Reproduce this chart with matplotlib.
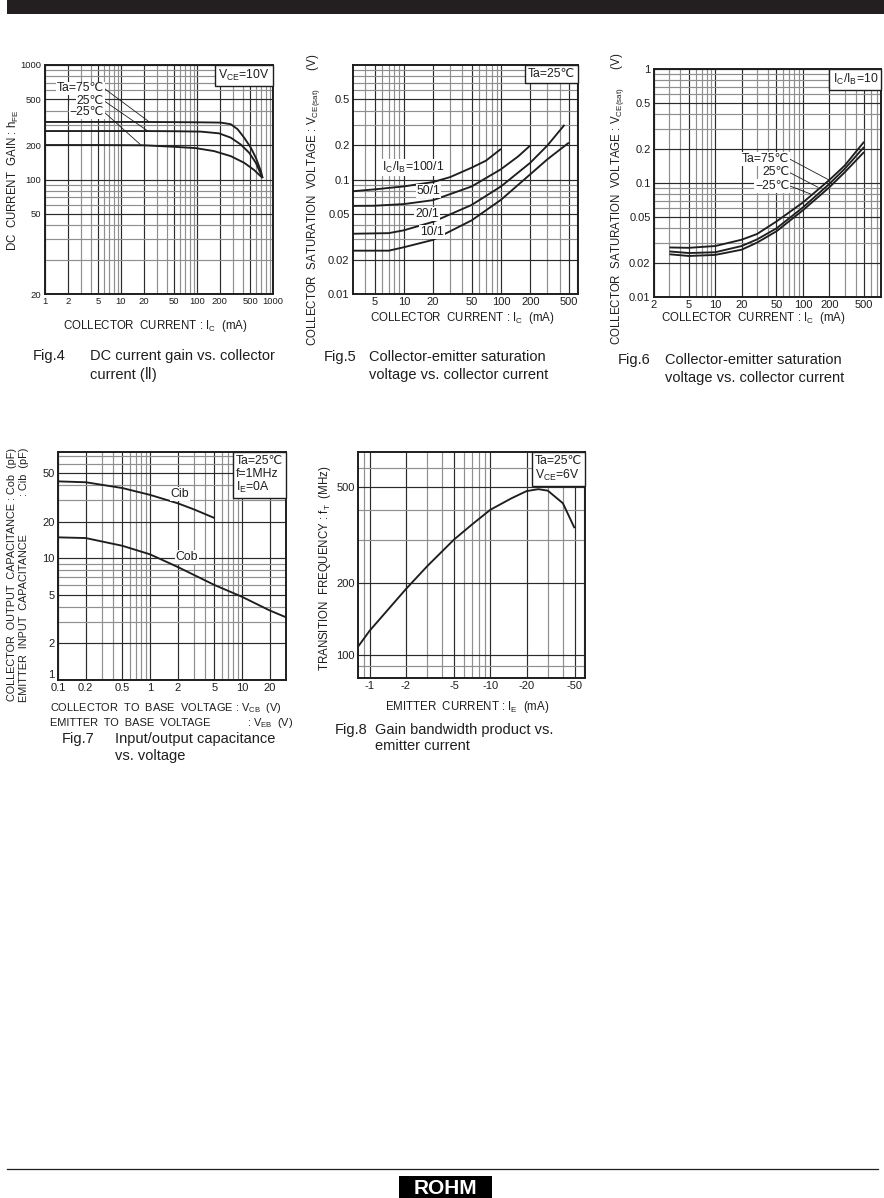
import matplotlib.pyplot as plt
import numpy as np
from matplotlib.lines import Line2D
from matplotlib.offsetbox import AnchoredText
from matplotlib.patches import Rectangle
from matplotlib.ticker import NullFormatter

W, H = 884, 1198
INK = "#1e1e1e"
GRID_DARK = "#2b2b2b"
GRID_LIGHT = "#8f8f8f"

# Fig.4  DC current gain vs collector current
FIG4_IC_75 = [1, 2, 5, 10, 20, 50, 100, 205, 278, 342, 417, 510, 594, 694, 730]
FIG4_HFE_75 = [318, 318, 318, 318, 318, 317, 316, 314, 304, 275, 232, 190, 155, 118, 103]
FIG4_IC_25 = [1, 2, 5, 10, 20, 50, 112, 195, 278, 377, 486, 594, 730]
FIG4_HFE_25 = [265, 265, 265, 265, 265, 264, 262, 253, 232, 202, 171, 140, 103]
FIG4_IC_M25 = [1, 5, 20, 50, 96, 168, 278, 417, 565, 730]
FIG4_HFE_M25 = [200, 200, 199, 193, 188, 177, 160, 140, 121, 103]
FIG4_XTICKS = [1, 2, 5, 10, 20, 50, 100, 200, 500, 1000]
FIG4_YTICKS = [10, 50, 100, 200, 500, 1000]
FIG4_YLABELS = ["20", "50", "100", "200", "500", "1000"]

# Fig.5  VCE(sat) vs Ic for several Ic/Ib ratios
FIG5_IC_100 = [3, 5, 10, 20, 30, 50, 70, 100]
FIG5_V_100 = [0.079, 0.082, 0.087, 0.095, 0.105, 0.127, 0.146, 0.185]
FIG5_IC_50 = [3, 5, 10, 20, 50, 100, 150, 200]
FIG5_V_50 = [0.0588, 0.059, 0.061, 0.066, 0.087, 0.123, 0.159, 0.198]
FIG5_IC_20 = [3, 7, 10, 20, 50, 100, 200, 300, 450]
FIG5_V_20 = [0.0336, 0.034, 0.036, 0.0427, 0.060, 0.087, 0.14, 0.198, 0.30]
FIG5_IC_10 = [3, 7, 10, 20, 50, 100, 200, 300, 500]
FIG5_V_10 = [0.0239, 0.0239, 0.0256, 0.0297, 0.044, 0.0665, 0.111, 0.15, 0.21]
FIG5_XTICKS = [5, 10, 20, 50, 100, 200, 500]
FIG5_YTICKS = [0.01, 0.02, 0.05, 0.1, 0.2, 0.5]

# Fig.6  VCE(sat) vs Ic at three temperatures
FIG6_IC = [3, 5, 10, 20, 30, 50, 100, 200, 300, 500]
FIG6_V_75 = [0.0272, 0.027, 0.028, 0.0318, 0.0357, 0.046, 0.0674, 0.106, 0.142, 0.23]
FIG6_V_25 = [0.0251, 0.0243, 0.0247, 0.028, 0.032, 0.040, 0.061, 0.098, 0.133, 0.207]
FIG6_V_M25 = [0.0237, 0.0229, 0.0234, 0.026, 0.030, 0.0377, 0.0576, 0.0915, 0.124, 0.187]
FIG6_XTICKS = [2, 5, 10, 20, 50, 100, 200, 500]
FIG6_YTICKS = [0.01, 0.02, 0.05, 0.1, 0.2, 0.5, 1]

# Fig.7  capacitance vs voltage
FIG7_V_CIB = [0.1, 0.2, 0.5, 1, 2, 3, 5]
FIG7_CIB = [43, 42.3, 37.9, 33.3, 28.4, 25.3, 21.5]
FIG7_V_COB = [0.1, 0.2, 0.5, 1, 2, 5, 10, 20, 30]
FIG7_COB = [14.9, 14.7, 12.7, 10.8, 8.5, 6.05, 4.83, 3.73, 3.28]
FIG7_XTICKS = [0.1, 0.2, 0.5, 1, 2, 5, 10, 20]
FIG7_YTICKS = [1, 2, 5, 10, 20, 50]

# Fig.8  transition frequency vs emitter current
FIG8_IE = [-0.8, -1, -2, -3, -5, -7, -10, -15, -20, -25, -30, -40, -50]
FIG8_FT = [108, 126, 188, 234, 302, 348, 402, 449, 481, 490, 483, 428, 337]
FIG8_XTICKS = [-1, -2, -5, -10, -20, -50]
FIG8_YTICKS = [100, 200, 500]

plt.rcParams.update({
    "font.family": ["Liberation Sans", "DejaVu Sans", "Noto Sans CJK JP"],
    "mathtext.fontset": "custom",
    "mathtext.rm": "Liberation Sans",
    "mathtext.it": "Liberation Sans:italic",
    "mathtext.bf": "Liberation Sans:bold",
    "text.color": INK,
})

fig = plt.figure(figsize=(W / 100, H / 100), dpi=100)

LAB = 8.3   # axis titles
NOTE = 8.8  # in-plot labels and condition boxes


def px_axes(x0, y0, x1, y1):
    return fig.add_axes([x0 / W, 1 - y1 / H, (x1 - x0) / W, (y1 - y0) / H])


def ftext(x, y, s, **kw):
    fig.text(x / W, 1 - y / H, s, **kw)


def decade_lines(lo, hi, skip):
    vals = []
    for k in range(int(np.floor(np.log10(lo))), int(np.ceil(np.log10(hi))) + 1):
        for d in range(1, 10):
            v = d * 10.0 ** k
            if lo < v < hi and not any(np.isclose(v, s) for s in skip):
                vals.append(v)
    return vals


def log_frame(ax, xlim, ylim, xt, xl, yt, yl, fs):
    ax.set_xscale("log")
    ax.set_yscale("log")
    ax.set_xlim(xlim)
    ax.set_ylim(ylim)
    ax.set_xticks(xt, xl)
    ax.set_yticks(yt, yl)
    ax.set_xticks(decade_lines(*xlim, xt), minor=True)
    ax.set_yticks(decade_lines(*ylim, yt), minor=True)
    ax.xaxis.set_minor_formatter(NullFormatter())
    ax.yaxis.set_minor_formatter(NullFormatter())
    ax.tick_params(which="both", length=0, labelsize=fs, pad=2.5, colors=INK)
    ax.grid(which="major", color=GRID_DARK, lw=0.85)
    ax.grid(which="minor", color=GRID_LIGHT, lw=0.85)
    ax.set_axisbelow(True)
    for s in ax.spines.values():
        s.set_linewidth(1.4)
        s.set_color(INK)


def corner_box(ax, s, size=NOTE):
    at = AnchoredText(s, loc="upper right", prop=dict(size=size, linespacing=1.05),
                      frameon=True, pad=0.25, borderpad=0)
    at.patch.set_boxstyle("square,pad=0")
    at.patch.set_linewidth(1.0)
    at.patch.set_edgecolor(INK)
    ax.add_artist(at)


def curve(ax, x, y):
    ax.plot(x, y, color=INK, lw=1.35, solid_capstyle="butt", zorder=3)


WHITE = dict(fc="white", ec="none", pad=0.6)
LEAD = dict(arrowstyle="-", lw=0.6, color=INK, relpos=(1, 0.5), shrinkA=0, shrinkB=0)

# ---------------- Fig.4 ----------------
ax4 = px_axes(45, 65, 273, 294)
log_frame(ax4, (1, 1000), (10, 1000), FIG4_XTICKS, [f"{v:g}" for v in FIG4_XTICKS],
          FIG4_YTICKS, FIG4_YLABELS, 6.8)
curve(ax4, FIG4_IC_75, FIG4_HFE_75)
curve(ax4, FIG4_IC_25, FIG4_HFE_25)
curve(ax4, FIG4_IC_M25, FIG4_HFE_M25)
corner_box(ax4, r"$\mathrm{V_{CE}}$=10V")
ax4.annotate("Ta=75℃", xy=(23, 322), xytext=(6.0, 625), ha="right", va="center",
             fontsize=NOTE, bbox=WHITE, arrowprops=LEAD)
ax4.annotate("25℃", xy=(22, 268), xytext=(6.0, 486), ha="right", va="center",
             fontsize=NOTE, bbox=WHITE, arrowprops=LEAD)
ax4.annotate("−25℃", xy=(18, 202), xytext=(6.0, 388), ha="right", va="center",
             fontsize=NOTE, bbox=WHITE, arrowprops=LEAD)
ftext(155, 326, r"COLLECTOR  CURRENT : $\mathrm{I_C}$  (mA)", ha="center", va="center", fontsize=LAB)
ftext(13, 180, r"DC  CURRENT  GAIN : $\mathrm{h_{FE}}$", ha="center", va="center",
      rotation=90, fontsize=LAB)

# ---------------- Fig.5 ----------------
ax5 = px_axes(353, 65, 578, 294)
log_frame(ax5, (3, 620), (0.01, 1), FIG5_XTICKS, [f"{v:g}" for v in FIG5_XTICKS],
          FIG5_YTICKS, [f"{v:g}" for v in FIG5_YTICKS], 8)
curve(ax5, FIG5_IC_100, FIG5_V_100)
curve(ax5, FIG5_IC_50, FIG5_V_50)
curve(ax5, FIG5_IC_20, FIG5_V_20)
curve(ax5, FIG5_IC_10, FIG5_V_10)
corner_box(ax5, "Ta=25℃")
ax5.text(6.0, 0.127, r"$\mathrm{I_C/I_B}$=100/1", ha="left", va="center", fontsize=NOTE, bbox=WHITE)
ax5.text(18, 0.079, "50/1", ha="center", va="center", fontsize=NOTE, bbox=WHITE)
ax5.text(17.3, 0.050, "20/1", ha="center", va="center", fontsize=NOTE, bbox=WHITE)
ax5.text(19.5, 0.0348, "10/1", ha="center", va="center", fontsize=NOTE, bbox=WHITE)
ftext(462, 318, r"COLLECTOR  CURRENT : $\mathrm{I_C}$  (mA)", ha="center", va="center", fontsize=LAB)
ftext(313, 200, r"COLLECTOR  SATURATION  VOLTAGE : $\mathrm{V_{CE(sat)}}$      (V)",
      ha="center", va="center", rotation=90, fontsize=LAB)

# ---------------- Fig.6 ----------------
ax6 = px_axes(654, 69, 881, 297)
log_frame(ax6, (2, 780), (0.01, 1), FIG6_XTICKS, [f"{v:g}" for v in FIG6_XTICKS],
          FIG6_YTICKS, [f"{v:g}" for v in FIG6_YTICKS], 8)
curve(ax6, FIG6_IC, FIG6_V_75)
curve(ax6, FIG6_IC, FIG6_V_25)
curve(ax6, FIG6_IC, FIG6_V_M25)
corner_box(ax6, r"$\mathrm{I_C/I_B}$=10")
ax6.annotate("Ta=75℃", xy=(200, 0.106), xytext=(70, 0.163), ha="right", va="center",
             fontsize=NOTE, bbox=WHITE, arrowprops=LEAD)
ax6.annotate("25℃", xy=(150, 0.0915), xytext=(70, 0.124), ha="right", va="center",
             fontsize=NOTE, bbox=WHITE, arrowprops=LEAD)
ax6.annotate("−25℃", xy=(128, 0.079), xytext=(70, 0.0947), ha="right", va="center",
             fontsize=NOTE, bbox=WHITE, arrowprops=LEAD)
ftext(753, 318, r"COLLECTOR  CURRENT : $\mathrm{I_C}$  (mA)", ha="center", va="center", fontsize=LAB)
ftext(617, 199, r"COLLECTOR  SATURATION  VOLTAGE : $\mathrm{V_{CE(sat)}}$      (V)",
      ha="center", va="center", rotation=90, fontsize=LAB)

# ---------------- Fig.7 ----------------
ax7 = px_axes(58, 452, 286, 680)
log_frame(ax7, (0.1, 30), (1, 75), FIG7_XTICKS, [f"{v:g}" for v in FIG7_XTICKS],
          FIG7_YTICKS, [f"{v:g}" for v in FIG7_YTICKS], 8)
# the "1" sits just above the corner so it clears the "0.1" below it
ax7.get_yticklabels()[0].set_va("bottom")
curve(ax7, FIG7_V_CIB, FIG7_CIB)
curve(ax7, FIG7_V_COB, FIG7_COB)
corner_box(ax7, "Ta=25℃\nf=1MHz\n" + r"$\mathrm{I_E}$=0A")
ax7.text(2.1, 33.9, "Cib", ha="center", va="center", fontsize=NOTE, bbox=WHITE)
ax7.text(2.5, 10.3, "Cob", ha="center", va="center", fontsize=NOTE, bbox=WHITE)
LAB7 = 7.9
ftext(50, 708, r"COLLECTOR  TO  BASE  VOLTAGE : $\mathrm{V_{CB}}$  (V)", ha="left", va="center", fontsize=LAB7)
ftext(50, 723, "EMITTER  TO  BASE  VOLTAGE", ha="left", va="center", fontsize=LAB7)
ftext(293, 723, r": $\mathrm{V_{EB}}$  (V)", ha="right", va="center", fontsize=LAB7)
ftext(12, 448, r"COLLECTOR  OUTPUT  CAPACITANCE : Cob  (pF)", ha="right", va="center",
      rotation=90, rotation_mode="anchor", fontsize=7.8)
ftext(24, 702, "EMITTER  INPUT  CAPACITANCE", ha="left", va="center",
      rotation=90, rotation_mode="anchor", fontsize=7.8)
ftext(24, 448, ": Cib  (pF)", ha="right", va="center",
      rotation=90, rotation_mode="anchor", fontsize=7.8)

# ---------------- Fig.8 ----------------
ax8 = px_axes(358, 452, 585, 678)
ie_abs = -np.array(FIG8_IE)
log_frame(ax8, (0.8, 61), (80, 700), [-v for v in FIG8_XTICKS], [f"{v:g}" for v in FIG8_XTICKS],
          FIG8_YTICKS, [f"{v:g}" for v in FIG8_YTICKS], 8)
curve(ax8, ie_abs, FIG8_FT)
corner_box(ax8, "Ta=25℃\n" + r"$\mathrm{V_{CE}}$=6V")
ftext(467, 707, r"EMITTER  CURRENT : $\mathrm{I_E}$  (mA)", ha="center", va="center", fontsize=LAB)
ftext(325, 568, r"TRANSITION  FREQUENCY : $\mathrm{f_T}$  (MHz)", ha="center", va="center",
      rotation=90, fontsize=LAB)

# ---------------- captions ----------------
CAP = 10.5
ftext(33, 356, "Fig.4", ha="left", va="center", fontsize=CAP)
ftext(90, 356, "DC current gain vs. collector", ha="left", va="center", fontsize=CAP)
ftext(90, 374, "current (Ⅱ)", ha="left", va="center", fontsize=CAP)
ftext(324, 357, "Fig.5", ha="left", va="center", fontsize=CAP)
ftext(369, 357, "Collector-emitter saturation", ha="left", va="center", fontsize=CAP)
ftext(369, 375, "voltage vs. collector current", ha="left", va="center", fontsize=CAP)
ftext(618, 360, "Fig.6", ha="left", va="center", fontsize=CAP)
ftext(665, 360, "Collector-emitter saturation", ha="left", va="center", fontsize=CAP)
ftext(665, 378, "voltage vs. collector current", ha="left", va="center", fontsize=CAP)
ftext(62, 739, "Fig.7", ha="left", va="center", fontsize=CAP)
ftext(115, 739, "Input/output capacitance", ha="left", va="center", fontsize=CAP)
ftext(115, 756, "vs. voltage", ha="left", va="center", fontsize=CAP)
ftext(335, 730, "Fig.8", ha="left", va="center", fontsize=CAP)
ftext(375, 730, "Gain bandwidth product vs.", ha="left", va="center", fontsize=CAP)
ftext(375, 746, "emitter current", ha="left", va="center", fontsize=CAP)

# ---------------- page furniture ----------------
fig.add_artist(Rectangle((7 / W, 1 - 14 / H), (W - 7) / W, 14 / H,
                         transform=fig.transFigure, color="#231f20", lw=0))
fig.add_artist(Line2D([7 / W, 878 / W], [1 - 1169 / H] * 2, transform=fig.transFigure,
                      color=INK, lw=0.9))
fig.add_artist(Rectangle((399 / W, 1 - 1198 / H), 93 / W, 22 / H,
                         transform=fig.transFigure, color="black", lw=0))
ftext(445, 1188, "ROHM", ha="center", va="center", fontsize=15, fontweight="bold", color="white")

fig.savefig("out.png", dpi=100)
